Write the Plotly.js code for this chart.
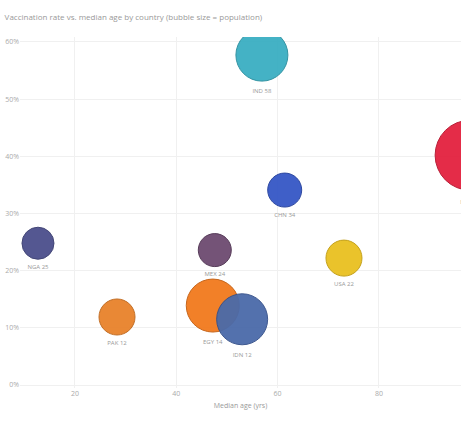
<!DOCTYPE html>
<html>
<head>
<meta charset="utf-8">
<script src="https://cdn.plot.ly/plotly-3.0.1.min.js"></script>
<style>html,body{margin:0;padding:0;background:#fff;}#chart{width:461px;height:422px;}</style>
</head>
<body>
<div id="chart"></div>
<script>
const countries = ["NGA", "IND", "BRA", "CHN", "MEX", "EGY", "IDN", "PAK", "USA"];
const medianAge = [12.7, 56.9, 98.0, 61.4, 47.6, 47.2, 53.0, 28.3, 73.1];
const rate = [24.8, 57.7, 40.2, 34.1, 23.6, 13.9, 11.5, 11.9, 22.2];
const sizes = [32, 52, 70, 34, 33, 53, 51, 36, 36];
const colors = ["#4b4f8c", "#3aaec2", "#e3213f", "#3557c6", "#6d4a70", "#f27a1d", "#4a6aa9", "#e8822b", "#e9c020"];
const lineColors = ["#3a3d70", "#2a8f9f", "#b5152e", "#24409c", "#4f3352", "#c45e10", "#35508a", "#c0681c", "#c29d10"];
const labels = countries.map((c, i) => c + " " + rate[i].toFixed(0));
const xTicks = [20, 40, 60, 80];
const yTicks = [0, 10, 20, 30, 40, 50, 60];

const trace = {
  type: "scatter",
  mode: "markers+text",
  x: medianAge,
  y: rate,
  text: labels,
  textposition: "bottom center",
  textfont: {family: "Open Sans, sans-serif", size: 6, color: "#999"},
  marker: {
    size: sizes,
    sizemode: "diameter",
    color: colors,
    opacity: 0.95,
    line: {color: lineColors, width: 1}
  },
  cliponaxis: true,
  hoverinfo: "x+y+text"
};

const layout = {
  width: 461,
  height: 422,
  margin: {l: 20, r: 0, t: 37, b: 34},
  paper_bgcolor: "#fff",
  plot_bgcolor: "#fff",
  showlegend: false,
  font: {family: "Open Sans, sans-serif", color: "#aaa", size: 7},
  title: {
    text: "Vaccination rate vs. median age by country (bubble size = population)",
    x: 0.01, xanchor: "left", y: 0.96, yanchor: "middle",
    font: {family: "Open Sans, sans-serif", size: 8, color: "#999"}
  },
  xaxis: {
    range: [9.15, 96.2],
    tickvals: xTicks,
    ticktext: xTicks.map(String),
    showgrid: true, gridcolor: "#f0f0f0", zeroline: false, showline: false,
    tickfont: {size: 7, color: "#aaa"},
    automargin: false,
    title: {text: "Median age (yrs)", font: {size: 7, color: "#999"}, standoff: 6}
  },
  yaxis: {
    range: [-0.52, 60.87],
    tickvals: yTicks,
    ticktext: yTicks.map(v => v + "%"),
    showgrid: true, gridcolor: "#f0f0f0", zeroline: false, showline: false,
    tickfont: {size: 7, color: "#aaa"},
    automargin: false,
    ticklabelposition: "outside"
  }
};

Plotly.newPlot("chart", [trace], layout, {displayModeBar: false, staticPlot: true});
</script>
</body>
</html>
